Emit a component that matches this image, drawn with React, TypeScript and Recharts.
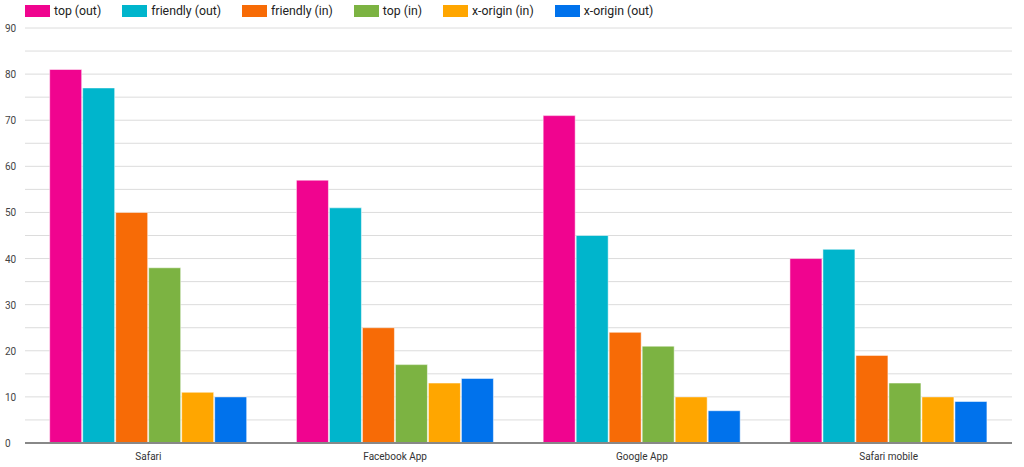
import React from 'react';
import { BarChart, Bar, XAxis, YAxis, CartesianGrid } from 'recharts';

const categories = ['Safari', 'Facebook App', 'Google App', 'Safari mobile'];
const topOut = [81, 57, 71, 40];
const friendlyOut = [77, 51, 45, 42];
const friendlyIn = [50, 25, 24, 19];
const topIn = [38, 17, 21, 13];
const xOriginIn = [11, 13, 10, 10];
const xOriginOut = [10, 14, 7, 9];
const yTicks = [0, 5, 10, 15, 20, 25, 30, 35, 40, 45, 50, 55, 60, 65, 70, 75, 80, 85, 90];

const series = [
  { key: 'topOut', name: 'top (out)', color: '#f0048f', values: topOut },
  { key: 'friendlyOut', name: 'friendly (out)', color: '#00b5cc', values: friendlyOut },
  { key: 'friendlyIn', name: 'friendly (in)', color: '#f76b06', values: friendlyIn },
  { key: 'topIn', name: 'top (in)', color: '#7cb342', values: topIn },
  { key: 'xOriginIn', name: 'x-origin (in)', color: '#ffa600', values: xOriginIn },
  { key: 'xOriginOut', name: 'x-origin (out)', color: '#0072ec', values: xOriginOut },
];

const data = categories.map((c, i) => {
  const row: Record<string, string | number> = { name: c };
  series.forEach((s) => {
    row[s.key] = s.values[i];
  });
  return row;
});

const font = 'Roboto, sans-serif';

function YTick(props: any) {
  const { y, payload } = props;
  if (payload.value % 10 !== 0) return null;
  return (
    <text x={5} y={y} dy={4} fontSize={10} fill="#444" fontFamily={font} textAnchor="start">
      {payload.value}
    </text>
  );
}

export default function App() {
  return (
    <div style={{ position: 'absolute', left: 0, top: 0, width: 1024, height: 467, background: '#fff' }}>
      <div
        style={{
          position: 'absolute',
          top: 3,
          left: 25,
          display: 'flex',
          fontFamily: font,
          fontSize: 12.3,
          lineHeight: '16px',
          color: '#222',
          zIndex: 1,
        }}
      >
        {series.map((s) => (
          <div key={s.key} style={{ display: 'flex', alignItems: 'center', marginRight: 21 }}>
            <span style={{ display: 'inline-block', width: 25, height: 12, background: s.color, marginRight: 4 }} />
            <span>{s.name}</span>
          </div>
        ))}
      </div>
      <BarChart
        width={1024}
        height={467}
        data={data}
        margin={{ top: 28, right: 12, bottom: 0, left: 0 }}
        barCategoryGap="10%"
        barGap={1}
      >
        <CartesianGrid vertical={false} stroke="#dcdcdc" strokeWidth={1} />
        <XAxis
          dataKey="name"
          height={24}
          tickLine={false}
          axisLine={{ stroke: '#888', strokeWidth: 2 }}
          tick={{ fontSize: 10, fill: '#333', fontFamily: font }}
          tickMargin={4}
        />
        <YAxis
          width={25}
          domain={[0, 90]}
          ticks={yTicks}
          interval={0}
          axisLine={false}
          tickLine={false}
          tick={<YTick />}
        />
        {series.map((s) => (
          <Bar
            key={s.key}
            dataKey={s.key}
            name={s.name}
            fill={s.color}
            stroke="#ffffff"
            strokeOpacity={0.5}
            isAnimationActive={false}
          />
        ))}
      </BarChart>
    </div>
  );
}
